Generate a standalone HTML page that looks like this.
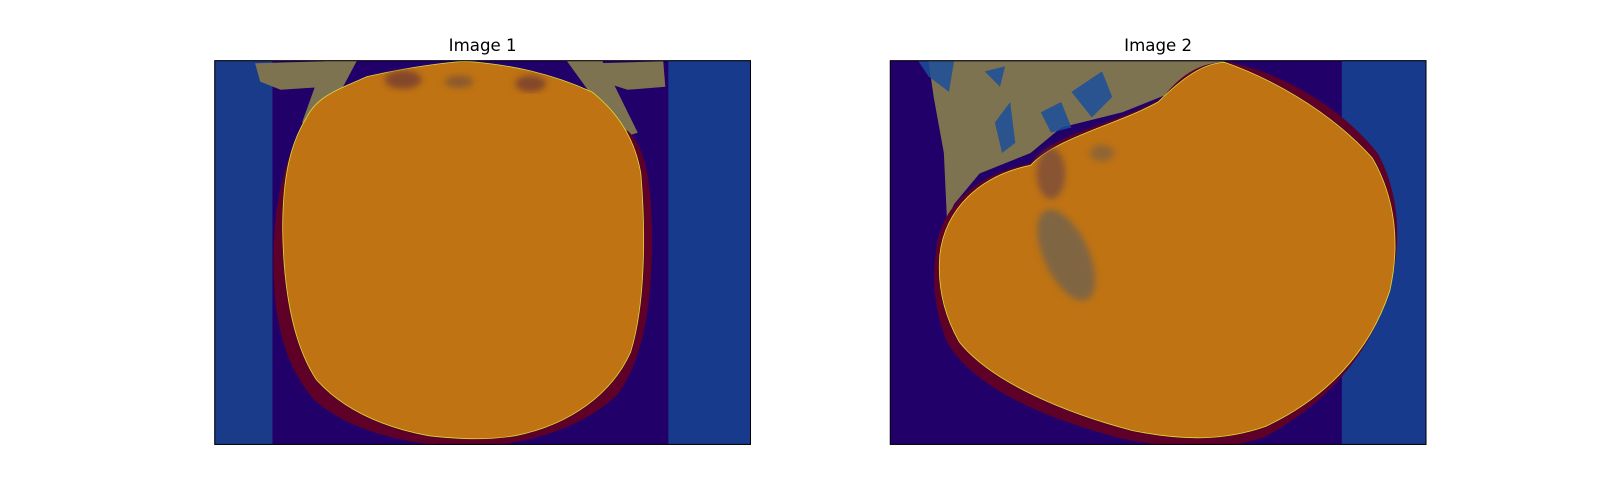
<!DOCTYPE html>
<html><head><meta charset="utf-8"><style>
body{margin:0;background:#fff;width:1600px;height:500px;overflow:hidden}
svg{display:block}
text{font-family:"DejaVu Sans","Liberation Sans",sans-serif}
</style></head><body>
<svg width="1600" height="500" viewBox="0 0 1600 500">
<defs>
<clipPath id="c1"><rect x="210" y="59" width="526" height="377"/></clipPath>
<clipPath id="c2"><rect x="872" y="59" width="526" height="377"/></clipPath>
<filter id="soft"><feGaussianBlur stdDeviation="3"/></filter>
</defs>
<g transform="scale(1.0204)">
<text x="473" y="50" font-size="16.3" text-anchor="middle" fill="#000">Image 1</text>
<text x="1135" y="50" font-size="16.3" text-anchor="middle" fill="#000">Image 2</text>

<g clip-path="url(#c1)">
<rect x="210" y="59" width="526" height="377" fill="#220069"/>
<rect x="210" y="59" width="57" height="377" fill="#1a3b8a"/>
<rect x="655" y="59" width="81" height="377" fill="#183a8c"/>
<path d="M250,62 L320,60 L335,75 L320,85 L275,88 L255,80 Z" fill="#7e7350"/>
<path d="M585,62 L650,60 L652,85 L615,88 L590,80 Z" fill="#7e7350"/>
<path d="M318,59 L350,59 L315,125 L296,120 Z" fill="#7e7350"/>
<path d="M555,59 L590,59 L625,130 L610,135 Z" fill="#7e7350"/>
<path d="M300,118 C283,145 269,190 268,250 C267,315 280,360 308,392 C345,424 400,436 455,438 C515,437 570,420 605,387 C630,352 639,300 639,235 C639,175 631,142 615,128 Z" fill="#5e0028"/>
<path d="M300,116 C310,95 330,88 360,75 C400,66 430,62 455,60 C500,63 540,72 580,90 C605,110 622,135 628,170 C633,230 632,300 618,345 C600,385 560,416 505,427 C480,431 455,431 420,427 C372,418 335,400 310,372 C289,340 278,290 277,225 C277,172 285,140 300,116 Z" fill="#bf7313" stroke="#d8d840" stroke-width="0.8"/>
<g filter="url(#soft)" opacity="0.6">
<ellipse cx="395" cy="78" rx="18" ry="9" fill="#5b2a3a"/>
<ellipse cx="450" cy="80" rx="14" ry="6" fill="#6a4a40"/>
<ellipse cx="520" cy="82" rx="15" ry="8" fill="#5b2a3a"/>
</g>
</g>
<rect x="210.5" y="59.5" width="525" height="376" fill="none" stroke="#000" stroke-width="1"/>

<g clip-path="url(#c2)">
<rect x="872" y="59" width="526" height="377" fill="#220069"/>
<rect x="1315" y="59" width="83" height="377" fill="#183a8c"/>
<path d="M910,60 L1200,60 L1150,90 L1100,110 L1040,125 L1010,150 L960,170 L935,200 L928,215 L925,150 L915,95 Z" fill="#7e7350"/>
<g opacity="0.85">
<path d="M1050,90 L1080,70 L1090,95 L1070,115 Z" fill="#1c4f9a"/>
<path d="M1020,110 L1040,100 L1050,125 L1030,130 Z" fill="#1c4f9a"/>
<path d="M975,120 L990,100 L995,140 L982,150 Z" fill="#1c4f9a"/>
<path d="M900,60 L935,60 L930,90 L910,75 Z" fill="#1c4f9a"/>
<path d="M965,70 L985,65 L980,85 Z" fill="#1c4f9a"/>
</g>
<path d="M917,250 C920,200 960,170 1010,160 C1030,130 1100,120 1140,95 C1160,70 1180,60 1205,61 C1250,70 1310,100 1350,150 C1372,190 1375,240 1360,290 C1340,350 1300,395 1240,428 C1200,442 1150,440 1100,430 C1030,412 955,382 928,335 C914,300 914,270 917,250 Z" fill="#5e0028"/>
<path d="M921,250 C926,205 960,172 1010,162 C1035,135 1095,122 1135,100 C1160,75 1180,62 1200,61 C1240,75 1300,105 1345,155 C1368,195 1372,240 1362,285 C1342,345 1300,390 1240,418 C1200,432 1160,432 1110,422 C1045,405 972,375 940,335 C923,305 919,275 921,250 Z" fill="#bf7313" stroke="#d8d840" stroke-width="0.8"/>
<g filter="url(#soft)" opacity="0.55">
<ellipse cx="1045" cy="250" rx="22" ry="48" transform="rotate(-25 1045 250)" fill="#4e5a6a"/>
<ellipse cx="1030" cy="170" rx="14" ry="25" fill="#5b3a50"/>
<ellipse cx="1080" cy="150" rx="12" ry="8" fill="#6a5a50"/>
</g>
</g>
<rect x="872.5" y="59.5" width="525" height="376" fill="none" stroke="#000" stroke-width="1"/>
</g>
</svg>
</body></html>
